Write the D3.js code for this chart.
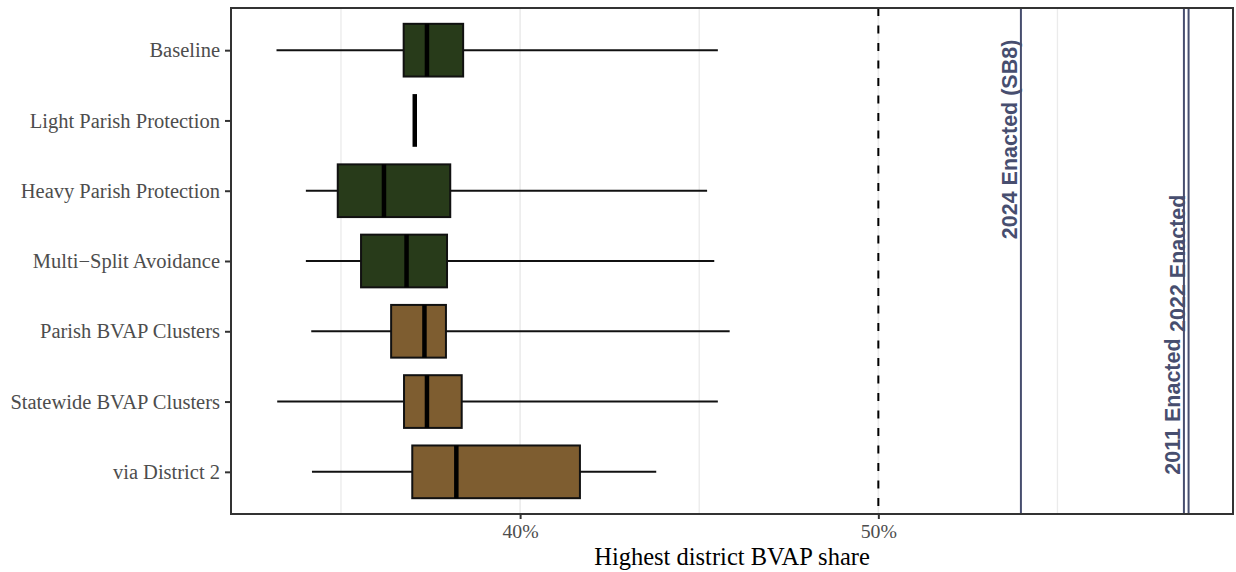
<!DOCTYPE html>
<html>
<head>
<meta charset="utf-8">
<script src="https://cdn.jsdelivr.net/npm/d3@7"></script>
<style>
  html, body { margin: 0; padding: 0; background: #ffffff; }
  svg { display: block; }
</style>
</head>
<body>
<svg id="chart" width="1236" height="572"></svg>
<script>
// Simulation ensembles: distribution of the highest district BVAP share
const categories = [
  "Baseline",
  "Light Parish Protection",
  "Heavy Parish Protection",
  "Multi\u2212Split Avoidance",
  "Parish BVAP Clusters",
  "Statewide BVAP Clusters",
  "via District 2"
];
const family      = ["split", "split", "split", "split", "cluster", "cluster", "cluster"];
const whiskerLow  = [33.20, 37.06, 34.02, 34.02, 34.17, 33.22, 34.19];
const q1          = [36.75, 37.06, 34.91, 35.56, 36.40, 36.76, 36.99];
const median      = [37.40, 37.06, 36.20, 36.83, 37.33, 37.40, 38.22];
const q3          = [38.41, 37.06, 38.05, 37.96, 37.93, 38.37, 41.67];
const whiskerHigh = [45.52, 37.06, 45.22, 45.42, 45.85, 45.52, 43.80];

// Enacted plans shown as reference lines
const enactedPlans = ["2024 Enacted (SB8)", "2011 Enacted", "2022 Enacted"];
const enactedBVAP  = [53.98, 58.53, 58.66];
const majorityLine = 50;

// Axis ticks
const xTicks      = [40, 50];
const xTickLabels = ["40%", "50%"];
const xMinorGrid  = [35, 45, 55];

const familyColour = { split: "#283b1a", cluster: "#7e5d30" };
const enactedColour = "#474e6f";
// label start along the category axis (in category steps from the first row)
const enactedLabelStart = [2.69, 6.04, 4.01];
const enactedLabelOffset = [-4, -4, -4];

const svg = d3.select("#chart");
const margin = { top: 8, right: 3, bottom: 58, left: 231 };
const W = 1236, H = 572;
const x0 = margin.left, x1 = W - margin.right;
const y0 = margin.top, y1 = H - margin.bottom;

const x = d3.scaleLinear().domain([31.93, 59.9]).range([x0, x1]);
const y = d3.scalePoint().domain(categories).range([y0, y1]).padding(0.6);
const step = y.step();
const boxH = step * 0.75;

const rows = categories.map((c, i) => ({
  cat: c, fam: family[i],
  lo: whiskerLow[i], q1: q1[i], med: median[i], q3: q3[i], hi: whiskerHigh[i]
}));

// grid
const grid = svg.append("g");
grid.selectAll("line.minor").data(xMinorGrid).join("line")
  .attr("x1", d => x(d)).attr("x2", d => x(d))
  .attr("y1", y0).attr("y2", y1)
  .attr("stroke", "#ebebeb").attr("stroke-width", 1.3);
grid.selectAll("line.major").data(xTicks).join("line")
  .attr("x1", d => x(d)).attr("x2", d => x(d))
  .attr("y1", y0).attr("y2", y1)
  .attr("stroke", "#ebebeb").attr("stroke-width", 1.6);

// 50% reference
svg.append("line")
  .attr("x1", x(majorityLine)).attr("x2", x(majorityLine))
  .attr("y1", y0).attr("y2", y1)
  .attr("stroke", "#000").attr("stroke-width", 2)
  .attr("stroke-dasharray", "8,9.5");

// enacted plan lines
svg.append("g").selectAll("line").data(enactedBVAP).join("line")
  .attr("x1", d => x(d)).attr("x2", d => x(d))
  .attr("y1", y0).attr("y2", y1)
  .attr("stroke", enactedColour).attr("stroke-width", 2);

// boxplots
const boxes = svg.append("g").selectAll("g").data(rows).join("g")
  .attr("transform", d => `translate(0,${y(d.cat)})`);

boxes.append("line")
  .attr("x1", d => x(d.lo)).attr("x2", d => x(d.q1))
  .attr("stroke", "#111").attr("stroke-width", 2);
boxes.append("line")
  .attr("x1", d => x(d.q3)).attr("x2", d => x(d.hi))
  .attr("stroke", "#111").attr("stroke-width", 2);
boxes.append("rect")
  .attr("x", d => x(d.q1)).attr("width", d => x(d.q3) - x(d.q1))
  .attr("y", -boxH / 2).attr("height", boxH)
  .attr("fill", d => familyColour[d.fam])
  .attr("stroke", "#111").attr("stroke-width", 2);
boxes.append("line")
  .attr("x1", d => x(d.med)).attr("x2", d => x(d.med))
  .attr("y1", -boxH / 2).attr("y2", boxH / 2)
  .attr("stroke", "#000").attr("stroke-width", 4.5);

// enacted plan labels
svg.append("g").selectAll("text").data(enactedPlans).join("text")
  .attr("transform", (d, i) => {
    const ty = y(categories[0]) + enactedLabelStart[i] * step;
    const tx = x(enactedBVAP[i]) + enactedLabelOffset[i];
    return `translate(${tx},${ty}) rotate(-90)`;
  })
  .attr("text-anchor", "start")
  .attr("font-family", "'Liberation Sans', Arial, sans-serif")
  .attr("font-weight", "bold")
  .attr("font-size", 21.5)
  .attr("fill", enactedColour)
  .text(d => d);

// panel border
svg.append("rect")
  .attr("x", x0).attr("y", y0).attr("width", x1 - x0).attr("height", y1 - y0)
  .attr("fill", "none").attr("stroke", "#333").attr("stroke-width", 2);

// x axis
const xAxis = d3.axisBottom(x).tickValues(xTicks)
  .tickFormat((d, i) => xTickLabels[i]).tickSize(5).tickPadding(5);
const gx = svg.append("g").attr("transform", `translate(0,${y1})`).call(xAxis);
gx.select(".domain").remove();
gx.selectAll(".tick line").attr("stroke", "#333").attr("stroke-width", 2);
gx.selectAll(".tick text")
  .attr("font-family", "'Liberation Serif', 'Times New Roman', serif")
  .attr("font-size", 19.8).attr("fill", "#4d4d4d");

// y axis
const yAxis = d3.axisLeft(y).tickSize(6).tickPadding(5);
const gy = svg.append("g").attr("transform", `translate(${x0},0)`).call(yAxis);
gy.select(".domain").remove();
gy.selectAll(".tick line").attr("stroke", "#333").attr("stroke-width", 2);
gy.selectAll(".tick text")
  .attr("font-family", "'Liberation Serif', 'Times New Roman', serif")
  .attr("font-size", 20.5).attr("fill", "#4d4d4d");

// x axis title
svg.append("text")
  .attr("x", (x0 + x1) / 2).attr("y", 564.5)
  .attr("text-anchor", "middle")
  .attr("font-family", "'Liberation Serif', 'Times New Roman', serif")
  .attr("font-size", 24.5).attr("fill", "#000")
  .text("Highest district BVAP share");
</script>
</body>
</html>
